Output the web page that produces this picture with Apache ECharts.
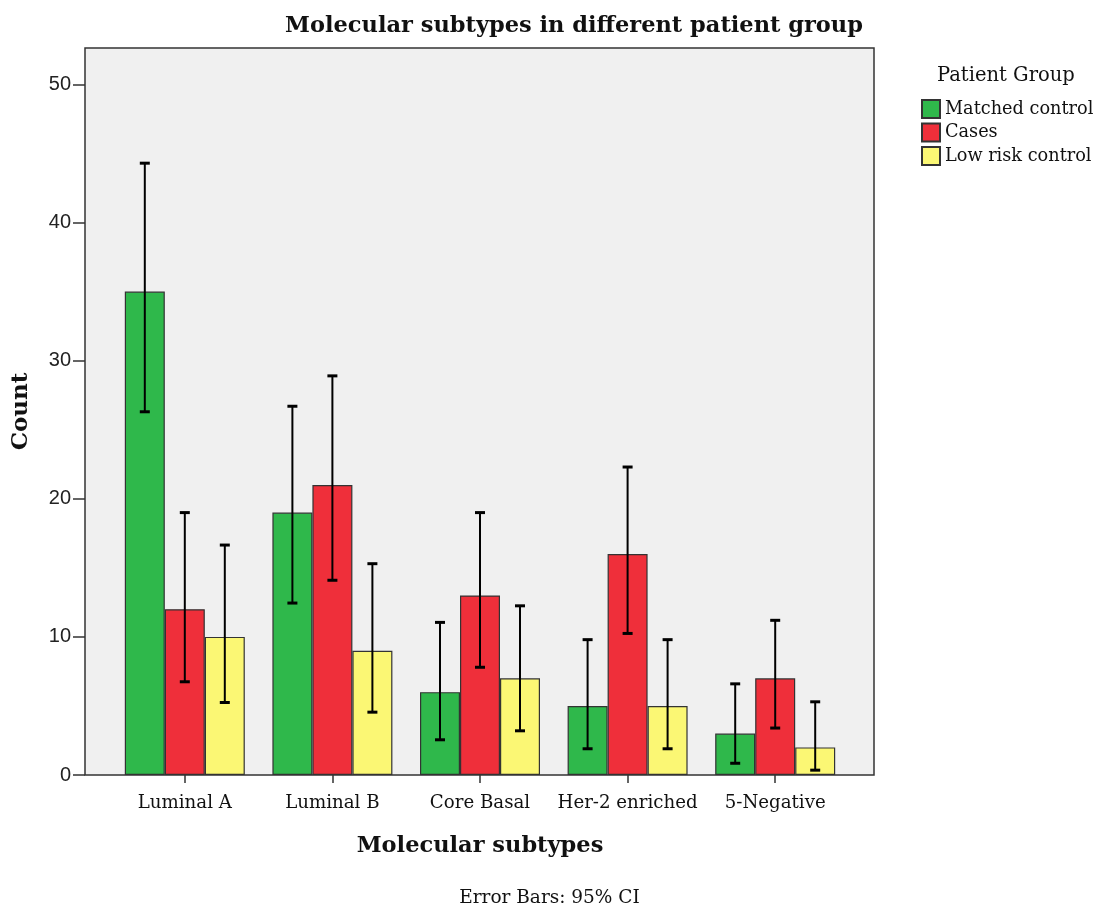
<!DOCTYPE html>
<html>
<head>
<meta charset="utf-8">
<script src="https://cdn.jsdelivr.net/npm/echarts@6/dist/echarts.min.js"></script>
<style>html,body{margin:0;padding:0;background:#fff}#c{width:1099px;height:912px}</style>
</head>
<body>
<div id="c"></div>
<script>
// ---- data ----
const categories = ['Luminal A', 'Luminal B', 'Core Basal', 'Her-2 enriched', '5-Negative'];
const groupNames = ['Matched control', 'Cases', 'Low risk control'];
const matchedCounts = [35, 19, 6, 5, 3];
const casesCounts = [12, 21, 13, 16, 7];
const lowRiskCounts = [10, 9, 7, 5, 2];
const matchedLow = [26.3, 12.45, 2.55, 1.9, 0.85];
const matchedHigh = [44.3, 26.7, 11.05, 9.8, 6.6];
const casesLow = [6.75, 14.1, 7.8, 10.25, 3.4];
const casesHigh = [19.0, 28.9, 19.0, 22.3, 11.2];
const lowRiskLow = [5.25, 4.55, 3.2, 1.9, 0.35];
const lowRiskHigh = [16.65, 15.3, 12.25, 9.8, 5.3];
const yTicks = [0, 10, 20, 30, 40, 50];
const yMax = 52.64;

const colors = ['#2fb84b', '#ef2f3a', '#fbf774'];
const counts = [matchedCounts, casesCounts, lowRiskCounts];
const lows = [matchedLow, casesLow, lowRiskLow];
const highs = [matchedHigh, casesHigh, lowRiskHigh];
const serif = '"DejaVu Serif", "Liberation Serif", serif';
const BAR_W = 40;

const chart = echarts.init(document.getElementById('c'), null, {renderer: 'canvas'});

const barSeries = groupNames.map((name, i) => ({
  name: name,
  type: 'bar',
  xAxisIndex: 1,
  yAxisIndex: 1,
  barWidth: BAR_W,
  barGap: '0%',
  data: counts[i],
  itemStyle: {color: colors[i], borderColor: '#333', borderWidth: 1.2},
  emphasis: {disabled: true}
}));

const errSeries = groupNames.map((name, i) => ({
  name: name + ' CI',
  type: 'custom',
  xAxisIndex: 1,
  yAxisIndex: 1,
  z: 10,
  data: categories.map((c, k) => [k, lows[i][k], highs[i][k]]),
  renderItem: function (params, api) {
    const k = api.value(0);
    const lo = api.coord([k, api.value(1)]);
    const hi = api.coord([k, api.value(2)]);
    const x = lo[0] + (i - 1) * BAR_W;
    const cap = 5;
    const st = {stroke: '#000', lineWidth: 2};
    return {
      type: 'group',
      children: [
        {type: 'line', shape: {x1: x, y1: lo[1], x2: x, y2: hi[1]}, style: st},
        {type: 'line', shape: {x1: x - cap, y1: lo[1], x2: x + cap, y2: lo[1]}, style: {stroke: '#000', lineWidth: 3}},
        {type: 'line', shape: {x1: x - cap, y1: hi[1], x2: x + cap, y2: hi[1]}, style: {stroke: '#000', lineWidth: 3}}
      ]
    };
  }
}));

const option = {
  animation: false,
  backgroundColor: '#fff',
  title: {
    text: 'Molecular subtypes in different patient group',
    left: 569, top: 10, textAlign: 'center',
    textStyle: {fontFamily: serif, fontWeight: 'bold', fontSize: 22.5, color: '#111'}
  },
  legend: {
    data: groupNames,
    orient: 'vertical',
    left: 921, top: 99, padding: 0,
    itemWidth: 18, itemHeight: 18, itemGap: 3.5,
    textStyle: {fontFamily: serif, fontSize: 17.7, color: '#111', lineHeight: 18},
    icon: 'rect'
  },
  graphic: [
    {type: 'text', left: 937, top: 66, style: {text: 'Patient Group', font: '19.5px ' + serif, fill: '#111'}},
    {type: 'text', left: 'center', top: 889, style: {text: 'Error Bars: 95% CI', font: '18.5px ' + serif, fill: '#111'}}
  ],
  grid: [
    {left: 85, top: 48, width: 789, height: 727, show: true, backgroundColor: '#f0f0f0', borderColor: '#333', borderWidth: 1.5, containLabel: false},
    {left: 111, top: 48, width: 738, height: 727, containLabel: false}
  ],
  xAxis: [
    {gridIndex: 0, type: 'value', min: 0, max: 1, show: false},
    {
      gridIndex: 1, type: 'category', data: categories,
      boundaryGap: true,
      axisLine: {show: false},
      axisTick: {show: true, alignWithLabel: true, interval: 0, length: 8, lineStyle: {color: '#333', width: 1.5}},
      axisLabel: {interval: 0, fontFamily: serif, fontSize: 18.2, color: '#111', margin: 19},
      name: 'Molecular subtypes', nameLocation: 'middle', nameGap: 60,
      nameTextStyle: {fontFamily: serif, fontWeight: 'bold', fontSize: 22.5, color: '#111'}
    }
  ],
  yAxis: [
    {
      gridIndex: 0, type: 'value', min: 0, max: yMax,
      axisLine: {show: false},
      splitLine: {show: false},
      axisTick: {show: true, length: 12, customValues: yTicks, lineStyle: {color: '#333', width: 1.5}},
      axisLabel: {customValues: yTicks, fontFamily: '"Liberation Sans", sans-serif', fontSize: 20, color: '#222', margin: 14},
      name: 'Count', nameLocation: 'middle', nameGap: 52, nameRotate: 90,
      nameTextStyle: {fontFamily: serif, fontWeight: 'bold', fontSize: 23, color: '#111'}
    },
    {gridIndex: 1, type: 'value', min: 0, max: yMax, show: false, splitLine: {show: false}}
  ],
  series: [...barSeries, ...errSeries]
};
chart.setOption(option);
</script>
</body>
</html>
